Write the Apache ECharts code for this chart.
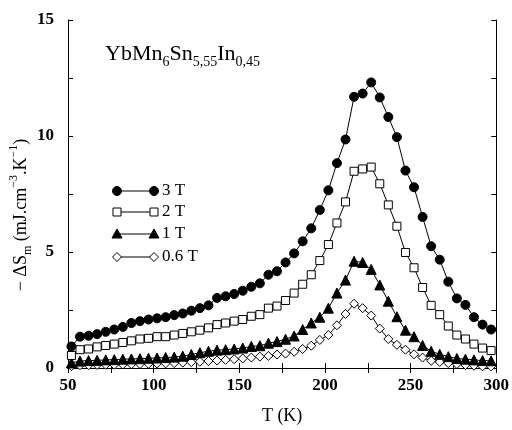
<!DOCTYPE html>
<html>
<head>
<meta charset="utf-8">
<script src="https://cdn.jsdelivr.net/npm/echarts@6/dist/echarts.min.js"></script>
<style>html,body{margin:0;padding:0;background:#fff;}#c{width:512px;height:430px;}</style>
</head>
<body>
<div id="c"></div>
<script>
const temps = [52,57,62,67,72,77,82,87,92,97,102,107,112,117,122,127,132,137,142,147,152,157,162,167,172,177,182,187,192,197,202,207,212,217,222,227,232,237,242,247,252,257,262,267,272,277,282,287,292,297];
const s3T = [0.93,1.35,1.39,1.46,1.56,1.66,1.77,1.94,2.02,2.09,2.14,2.19,2.28,2.35,2.47,2.58,2.70,3.02,3.09,3.19,3.33,3.50,3.65,4.02,4.17,4.55,4.94,5.46,6.02,6.81,7.66,8.83,9.85,11.69,11.83,12.31,11.66,10.82,9.95,8.51,7.79,6.51,5.25,4.67,3.72,3.00,2.72,2.19,1.87,1.66];
const s2T = [0.54,0.79,0.82,0.91,0.97,1.03,1.10,1.17,1.25,1.28,1.35,1.35,1.42,1.49,1.56,1.63,1.73,1.87,1.94,2.02,2.09,2.23,2.30,2.58,2.67,2.91,3.23,3.61,4.02,4.63,5.32,6.25,7.16,8.48,8.58,8.66,7.94,7.03,6.11,4.98,4.32,3.47,2.70,2.30,1.81,1.42,1.25,1.03,0.86,0.75];
const s1T = [0.22,0.30,0.32,0.33,0.35,0.36,0.38,0.39,0.40,0.42,0.43,0.45,0.47,0.51,0.58,0.66,0.72,0.77,0.79,0.82,0.86,0.93,0.96,1.07,1.14,1.24,1.38,1.66,1.94,2.19,2.58,3.23,3.79,4.60,4.55,4.25,3.58,2.88,2.21,1.63,1.35,0.97,0.72,0.59,0.49,0.41,0.38,0.35,0.32,0.31];
const s06T = [0.08,0.12,0.12,0.13,0.14,0.14,0.15,0.16,0.17,0.18,0.19,0.20,0.21,0.23,0.25,0.27,0.30,0.32,0.35,0.38,0.41,0.45,0.49,0.52,0.58,0.62,0.70,0.82,0.96,1.21,1.42,1.84,2.33,2.77,2.58,2.26,1.70,1.25,1.00,0.79,0.59,0.45,0.31,0.26,0.21,0.17,0.13,0.10,0.07,0.07];
const seriesNames = ['3 T','2 T','1 T','0.6 T'];
const xTicks = [50,100,150,200,250,300];
const yTicks = [0,5,10,15];

const FONT = 'Liberation Serif';
const chart = echarts.init(document.getElementById('c'), null, {renderer:'canvas'});

function pts(vals){ return temps.map((t,i)=>[t, vals[i]]); }

const axisCommon = {
  axisLine:{show:true, lineStyle:{color:'#000', width:1}},
  axisTick:{show:true, inside:true, length:5, lineStyle:{color:'#000', width:1}},
  minorTick:{show:true, splitNumber:2, length:5, lineStyle:{color:'#000', width:1}},
  splitLine:{show:false}
};
const labelStyle = {fontFamily:FONT, fontWeight:'bold', fontSize:17, color:'#000'};

const symbols = [
  {symbol:'circle', size:9, fill:'#000'},
  {symbol:'rect', size:8, fill:'#fff'},
  {symbol:'triangle', size:10, fill:'#000'},
  {symbol:'diamond', size:9, fill:'#fff'}
];
const datas = [s3T, s2T, s1T, s06T];

const series = datas.map((d,i)=>({
  name: seriesNames[i], type:'line', data: pts(d),
  symbol: symbols[i].symbol, symbolSize: symbols[i].size,
  showAllSymbol:true,
  lineStyle:{color:'#000', width:1},
  itemStyle:{color:symbols[i].fill, borderColor:'#000', borderWidth:1},
  z: 10 - i
}));

// legend drawn as graphics
const legendY = [191, 212, 234, 257];
const legendX1 = 117, legendX2 = 154, legendTextX = 162;
const graphics = [];
function marker(i, cx, cy){
  const s = {fill: symbols[i].fill, stroke:'#000', lineWidth:1};
  if(i===0) return {type:'circle', shape:{cx:cx, cy:cy, r:4.5}, style:s};
  if(i===1) return {type:'rect', shape:{x:cx-4, y:cy-4, width:8, height:8}, style:s};
  if(i===2) return {type:'polygon', shape:{points:[[cx,cy-5],[cx+5,cy+4],[cx-5,cy+4]]}, style:s};
  return {type:'polygon', shape:{points:[[cx,cy-4.5],[cx+4.5,cy],[cx,cy+4.5],[cx-4.5,cy]]}, style:s};
}
seriesNames.forEach((n,i)=>{
  const y = legendY[i];
  graphics.push({type:'line', shape:{x1:legendX1, y1:y, x2:legendX2, y2:y}, style:{stroke:'#000', lineWidth:1}});
  graphics.push(marker(i, legendX1, y));
  graphics.push(marker(i, legendX2, y));
  graphics.push({type:'text', style:{text:n, x:legendTextX, y:y, fontFamily:FONT, fontSize:17, fill:'#000', verticalAlign:'middle', align:'left'}});
});
// y-axis title
graphics.push({
  type:'text', x:21, y:215, rotation:Math.PI/2,
  style:{
    text:'− ΔS{sub|m} (mJ.cm{sup|−3}.K{sup|−1})',
    fontFamily:FONT, fontSize:18, fill:'#000', align:'center', verticalAlign:'middle', lineHeight:26,
    rich:{
      sub:{fontFamily:FONT, fontSize:12, lineHeight:14, verticalAlign:'bottom', fill:'#000'},
      sup:{fontFamily:FONT, fontSize:12, lineHeight:14, verticalAlign:'top', fill:'#000'}
    }
  }
});

const option = {
  animation:false,
  backgroundColor:'#fff',
  title:{
    left:100, top:34,
    text:'YbMn{s|6}Sn{s|5,55}In{s|0,45}',
    textStyle:{
      fontFamily:FONT, fontSize:22, fontWeight:'normal', color:'#000', lineHeight:30,
      rich:{ s:{fontFamily:FONT, fontSize:14, lineHeight:14, verticalAlign:'bottom', color:'#000'} }
    }
  },
  grid:{left:68, right:14, top:20, bottom:51, containLabel:false},
  xAxis:[
    Object.assign({type:'value', min:50, max:300, interval:50, position:'bottom',
      name:'T (K)', nameLocation:'middle', nameGap:39,
      nameTextStyle:{fontFamily:FONT, fontSize:18, color:'#000'},
      axisLabel:{show:true, margin:9, ...labelStyle,
        formatter:v=> xTicks.indexOf(v)>=0 ? String(v) : ''}}, axisCommon),
    Object.assign({type:'value', min:50, max:300, interval:50, position:'top', axisLabel:{show:false}}, axisCommon)
  ],
  yAxis:[
    Object.assign({type:'value', min:0, max:15, interval:5, position:'left',
      axisLabel:{show:true, margin:14, ...labelStyle,
        formatter:v=> yTicks.indexOf(v)>=0 ? String(v) : ''}}, axisCommon),
    Object.assign({type:'value', min:0, max:15, interval:5, position:'right', axisLabel:{show:false}}, axisCommon)
  ],
  series: series,
  graphic: graphics
};
chart.setOption(option);
</script>
</body>
</html>
